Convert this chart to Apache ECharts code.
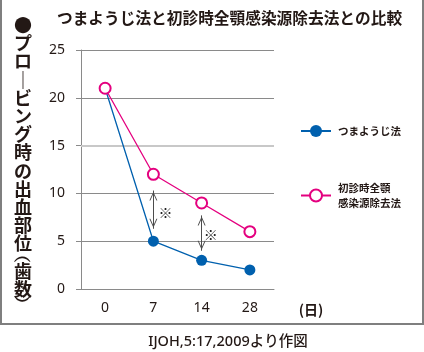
<!DOCTYPE html>
<html>
<head>
<meta charset="utf-8">
<script src="https://cdn.jsdelivr.net/npm/echarts@6/dist/echarts.min.js"></script>
<style>
  html, body { margin: 0; padding: 0; background: #fff; }
  #chart { width: 424px; height: 352px; }
</style>
</head>
<body>
<div id="chart"></div>
<script>
// data
const days = ['0', '7', '14', '28']
const toothpick = [21, 5, 3, 2]
const fullMouth = [21, 12, 9, 6]
const seriesNames = ['つまようじ法', '初診時全顎\n感染源除去法']
// significance arrows: [day, from, to]
const arrows = [['7', 10.3, 6.3], ['14', 7.7, 4.0]]
const marks = [['7', 8.0], ['14', 5.7]]

const yLabelChars = ['●', 'プ', 'ロ', '｜', 'ビ', 'ン', 'グ', '時', 'の', '出', '血', '部', '位', '{p|︵}', '歯', '数', '{p|︶}']

const ink = '#231815'
const blue = '#0060ae'
const pink = '#e4007f'
const gridGray = '#8a8a8a'

// open chevron, tip at the centre of its box
const chevron = 'path://M4,0L4,0.01Z M0,18L4,10L8,18L7,18L4,12L1,18Z'

const chart = echarts.init(document.getElementById('chart'))

const option = {
  animation: false,
  textStyle: { fontFamily: '"Noto Sans", "Noto Sans CJK JP", sans-serif' },
  title: {
    text: 'つまようじ法と初診時全顎感染源除去法との比較',
    left: 57,
    top: 10,
    padding: 0,
    textStyle: { fontSize: 15.7, fontWeight: 'bold', color: ink, fontFamily: '"Noto Sans CJK JP", sans-serif' }
  },
  grid: { left: 81, right: 150, top: 50, bottom: 63 },
  legend: [
    {
      data: [seriesNames[0]],
      left: 300, top: 125, padding: 0,
      itemWidth: 30, itemHeight: 15,
      selectedMode: false,
      textStyle: { fontSize: 10.5, fontWeight: 'bold', color: ink, padding: [0, 0, 0, 2], fontFamily: '"Noto Sans CJK JP", sans-serif' }
    },
    {
      data: [seriesNames[1]],
      left: 300, top: 173, padding: 0,
      itemWidth: 30, itemHeight: 15,
      selectedMode: false,
      textStyle: { fontSize: 10.5, lineHeight: 15, fontWeight: 'bold', color: ink, padding: [15, 0, 0, 2], fontFamily: '"Noto Sans CJK JP", sans-serif' }
    }
  ],
  xAxis: {
    type: 'category',
    data: days,
    axisLine: { lineStyle: { color: gridGray } },
    axisTick: { length: 5, lineStyle: { color: gridGray } },
    axisLabel: { fontSize: 14, color: ink, margin: 12 }
  },
  yAxis: {
    type: 'value',
    min: 0, max: 25, interval: 5,
    axisLine: { show: true, lineStyle: { color: gridGray } },
    axisTick: { show: true, length: 5, lineStyle: { color: gridGray } },
    axisLabel: { fontSize: 14, color: ink, margin: 16 },
    splitLine: { lineStyle: { color: [gridGray, gridGray, gridGray, '#c8c8c8', gridGray, gridGray] } }
  },
  series: [
    {
      name: seriesNames[0],
      type: 'line',
      data: toothpick,
      symbol: 'circle',
      symbolSize: 11,
      itemStyle: { color: blue },
      lineStyle: { color: blue, width: 1.3 },
      markLine: {
        silent: true,
        symbol: [chevron, chevron],
        symbolSize: [8, 20],
        lineStyle: { color: '#4d4d4d', width: 1, type: 'solid' },
        label: { show: false },
        data: arrows.map(a => [{ coord: [a[0], a[1]] }, { coord: [a[0], a[2]] }])
      },
      markPoint: {
        silent: true,
        symbol: 'circle',
        symbolSize: 1,
        itemStyle: { color: 'transparent' },
        label: { show: true, position: 'inside', formatter: '※', fontSize: 14, color: '#222', fontFamily: '"Noto Sans CJK JP", sans-serif' },
        data: marks.map((m, i) => ({ coord: m, label: { offset: [i === 0 ? 12 : 9, 0] } }))
      }
    },
    {
      name: seriesNames[1],
      type: 'line',
      z: 3,
      data: fullMouth,
      symbol: 'emptyCircle',
      symbolSize: 11,
      itemStyle: { color: pink, borderWidth: 1.3 },
      lineStyle: { color: pink, width: 1.3 },
      markLine: {
        silent: true,
        z: 1,
        symbol: 'none',
        lineStyle: { color: '#c8c8c8', width: 2, type: 'solid' },
        label: { show: false },
        data: [{ yAxis: 15 }]
      }
    }
  ],
  graphic: [
    {
      type: 'rect',
      shape: { x: 1, y: -5, width: 422, height: 329 },
      style: { fill: 'none', stroke: '#7f7f7f', lineWidth: 2 },
      silent: true
    },
    {
      type: 'text',
      x: 23, y: 16,
      style: {
        text: yLabelChars.join('\n'),
        align: 'center',
        verticalAlign: 'top',
        fontSize: 18,
        lineHeight: 18.2,
        fontWeight: 'bold',
        fill: ink,
        fontFamily: '"Noto Sans CJK JP", sans-serif',
        rich: { p: { fontSize: 18, lineHeight: 9, fontWeight: 'bold', fill: ink } }
      }
    },
    {
      type: 'text',
      x: 311, y: 310,
      style: {
        text: '(日)',
        align: 'center', verticalAlign: 'middle',
        fontSize: 14, fontWeight: 'bold', fill: ink,
        fontFamily: '"Noto Sans CJK JP", sans-serif'
      }
    },
    {
      type: 'text',
      x: 228, y: 342,
      style: {
        text: 'IJOH,5:17,2009より作図',
        align: 'center', verticalAlign: 'middle',
        fontSize: 14.5, fontWeight: 500, fill: ink,
        fontFamily: '"Noto Sans", "Noto Sans CJK JP", sans-serif'
      }
    }
  ]
}

chart.setOption(option)
</script>
</body>
</html>
